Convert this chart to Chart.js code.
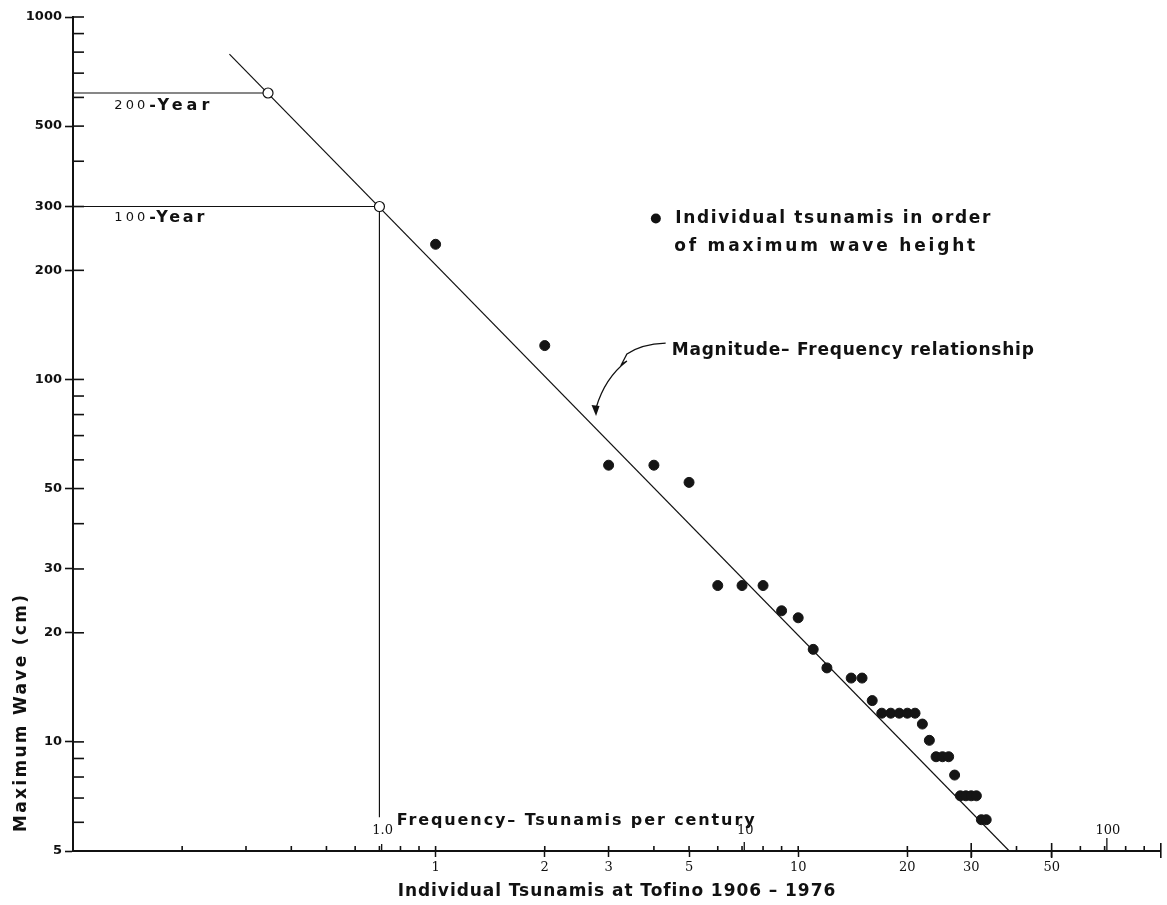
<!DOCTYPE html>
<html>
<head>
<meta charset="utf-8">
<script src="https://cdn.jsdelivr.net/npm/chart.js@4.4.1/dist/chart.umd.min.js"></script>
<style>
  html, body { margin: 0; padding: 0; background: #fff; }
  #wrap { width: 1167px; height: 905px; }
</style>
</head>
<body>
<div id="wrap"><canvas id="tsunamiChart" width="1167" height="905"></canvas></div>
<script>
// individual tsunamis at Tofino 1906-1976, ranked by maximum wave (no dot drawn at rank 13)
const ranks = [1, 2, 3, 4, 5, 6, 7, 8, 9, 10, 11, 12, 14, 15, 16, 17, 18, 19, 20, 21,
  22, 23, 24, 25, 26, 27, 28, 29, 30, 31, 32, 33];
const waveHeights = [236, 124, 58, 58, 52, 27, 27, 27, 23, 22, 18, 16, 15, 15, 13, 12, 12, 12, 12, 12,
  11.2, 10.1, 9.1, 9.1, 9.1, 8.1, 7.1, 7.1, 7.1, 7.1, 6.1, 6.1];

// magnitude-frequency relationship (end points of the drawn line)
const fitRanks = [0.27, 38.2];
const fitHeights = [790, 5];

// 200-year and 100-year events
const returnRanks = [0.345, 0.70];
const returnHeights = [617, 300];
const returnLabels = ['200', '100'];
const centuryDrop = 6.2;

// tick labels
const yLabelValues = [5, 10, 20, 30, 50, 100, 200, 300, 500, 1000];
const xLabelValues = [1, 2, 3, 5, 10, 20, 30, 50];
const freqRanks = [0.71, 7.1, 71];
const freqLabels = ['1.0', '10', '100'];

const xMin = 0.1, xMax = 100, yMin = 5, yMax = 1000;

const near = (v, list) => list.some(l => Math.abs(l - v) / l < 1e-6);
const isHalfStep = v => {
  const s = v / Math.pow(10, Math.floor(Math.log10(v) + 1e-9));
  return Math.abs(s - 1.5) < 1e-6;
};
const pts = (xs, ys) => xs.map((x, i) => ({x: x, y: ys[i]}));

function fitText(ctx, text, x, y, width, font) {
  ctx.font = font;
  ctx.letterSpacing = '0px';
  const w = ctx.measureText(text).width;
  const sp = (width - w) / (text.length - 1);
  ctx.letterSpacing = sp.toFixed(2) + 'px';
  ctx.textAlign = 'left';
  ctx.textBaseline = 'middle';
  ctx.fillText(text, x, y);
  ctx.letterSpacing = '0px';
}

const annotate = {
  id: 'annotate',
  afterDatasetsDraw(chart) {
    const {ctx, chartArea: area, scales: {x, y}} = chart;
    const P = (xv, yv) => [x.getPixelForValue(xv), y.getPixelForValue(yv)];
    const seg = (x1, y1, x2, y2) => { ctx.beginPath(); ctx.moveTo(x1, y1); ctx.lineTo(x2, y2); ctx.stroke(); };
    ctx.save();
    ctx.strokeStyle = '#111';
    ctx.fillStyle = '#111';

    // tick marks on the inner side of both axes
    ctx.lineWidth = 1.6;
    y.ticks.forEach(t => {
      if (isHalfStep(t.value) || t.value <= yMin) return;
      const py = y.getPixelForValue(t.value);
      seg(area.left, py, area.left + 11, py);
    });
    x.ticks.forEach(t => {
      if (isHalfStep(t.value) || t.value <= xMin) return;
      const px = x.getPixelForValue(t.value);
      const big = near(t.value, [30, 50, 100]);
      seg(px, area.bottom - (big ? 8 : 5), px, area.bottom + (big ? 7 : 0));
    });

    // frequency (per century) scale on the same axis
    ctx.lineWidth = 1.3;
    freqRanks.forEach((r, i) => {
      const px = x.getPixelForValue(r);
      seg(px, area.bottom - [7, 9, 13][i], px, area.bottom);
      ctx.font = '13px "DejaVu Serif"';
      ctx.textAlign = 'center';
      ctx.textBaseline = 'middle';
      ctx.fillText(freqLabels[i], px + 1, area.bottom - 20);
    });
    let [fx, fy] = P(0.781, 6.05);
    fitText(ctx, 'Frequency– Tsunamis per century', fx, fy, 358, 'bold 16px "DejaVu Sans"');

    // return period labels
    returnLabels.forEach((lab, i) => {
      const [lx, ly] = P(0.13, [568, 279][i]);
      fitText(ctx, lab, lx, ly, 31, '13px "DejaVu Sans"');
      fitText(ctx, '-Year', lx + 35, ly, [60, 55][i], 'bold 16px "DejaVu Sans"');
    });

    // legend
    const [dx, dy] = P(4.05, 278);
    ctx.beginPath(); ctx.arc(dx, dy, 5, 0, Math.PI * 2); ctx.fill();
    let [tx, ty] = P(4.58, 278);
    fitText(ctx, 'Individual tsunamis in order', tx, ty, 315, 'bold 17px "DejaVu Sans"');
    [tx, ty] = P(4.55, 232);
    fitText(ctx, 'of maximum wave height', tx, ty, 301, 'bold 17px "DejaVu Sans"');

    // magnitude-frequency label and arrow
    [tx, ty] = P(4.48, 120.5);
    fitText(ctx, 'Magnitude– Frequency relationship', tx, ty, 362, 'bold 17px "DejaVu Sans"');
    const S = P(4.31, 126), Q1 = P(3.68, 125.2), A = P(3.37, 117.5), B = P(3.26, 110.3),
          C = P(3.37, 112.4), Q2 = P(2.93, 100.9), T = P(2.77, 79.3);
    ctx.lineWidth = 1.3;
    ctx.beginPath();
    ctx.moveTo(S[0], S[1]);
    ctx.quadraticCurveTo(Q1[0], Q1[1], A[0], A[1]);
    ctx.lineTo(B[0], B[1]);
    ctx.lineTo(C[0], C[1]);
    ctx.quadraticCurveTo(Q2[0], Q2[1], T[0], T[1] - 8);
    ctx.stroke();
    ctx.beginPath();
    ctx.moveTo(T[0], T[1]);
    ctx.lineTo(T[0] - 4.5, T[1] - 11);
    ctx.lineTo(T[0] + 3.5, T[1] - 10);
    ctx.closePath();
    ctx.fill();

    // axis titles
    fitText(ctx, 'Individual Tsunamis at Tofino 1906 – 1976', x.getPixelForValue(0.786), area.bottom + 41, 437, 'bold 17px "DejaVu Sans"');
    ctx.save();
    ctx.translate(area.left - 51, y.getPixelForValue(5.64));
    ctx.rotate(-Math.PI / 2);
    fitText(ctx, 'Maximum Wave (cm)', 0, 0, 237, 'bold 17px "DejaVu Sans"');
    ctx.restore();

    ctx.restore();
  }
};

new Chart(document.getElementById('tsunamiChart'), {
  type: 'scatter',
  data: {
    datasets: [
      {
        label: 'return periods',
        data: pts(returnRanks, returnHeights),
        pointRadius: 5, pointBackgroundColor: '#fff', pointBorderColor: '#111', pointBorderWidth: 1.2
      },
      {
        label: 'individual tsunamis',
        data: pts(ranks, waveHeights),
        pointRadius: 5, pointBackgroundColor: '#151515', pointBorderColor: '#151515', pointBorderWidth: 1
      },
      {
        label: 'magnitude-frequency',
        data: pts(fitRanks, fitHeights),
        showLine: true, borderColor: '#111', borderWidth: 1.2, pointRadius: 0
      },
      {
        label: '200-year',
        data: [{x: xMin, y: returnHeights[0]}, {x: returnRanks[0], y: returnHeights[0]}],
        showLine: true, borderColor: '#111', borderWidth: 1.2, pointRadius: 0
      },
      {
        label: '100-year',
        data: [{x: xMin, y: returnHeights[1]}, {x: returnRanks[1], y: returnHeights[1]}, {x: returnRanks[1], y: centuryDrop}],
        showLine: true, borderColor: '#111', borderWidth: 1.2, pointRadius: 0
      }
    ]
  },
  options: {
    responsive: false,
    animation: false,
    layout: {padding: {top: 17, right: 3, left: 0, bottom: 0}},
    plugins: {legend: {display: false}, tooltip: {enabled: false}},
    scales: {
      x: {
        type: 'logarithmic', min: xMin, max: xMax,
        afterFit: s => { s.height = 54; },
        border: {color: '#111', width: 2},
        grid: {
          drawOnChartArea: false, tickLength: 6, tickWidth: 1.5,
          tickColor: c => near(c.tick.value, xLabelValues) ? '#111' : 'rgba(0,0,0,0)'
        },
        ticks: {
          autoSkip: false, maxRotation: 0, padding: 3, color: '#111',
          font: {family: '"DejaVu Serif"', size: 13},
          callback: v => near(v, xLabelValues) ? String(v) : ''
        }
      },
      y: {
        type: 'logarithmic', min: yMin, max: yMax,
        afterFit: s => { s.width = 73; },
        border: {color: '#111', width: 2},
        grid: {
          drawOnChartArea: false, tickLength: 8, tickWidth: 1.6,
          tickColor: c => near(c.tick.value, yLabelValues) ? '#111' : 'rgba(0,0,0,0)'
        },
        ticks: {
          autoSkip: false, padding: 3, color: '#111',
          font: {family: '"DejaVu Sans"', size: 13, weight: 'bold'},
          callback: v => near(v, yLabelValues) ? String(v) : ''
        }
      }
    }
  },
  plugins: [annotate]
});
</script>
</body>
</html>
